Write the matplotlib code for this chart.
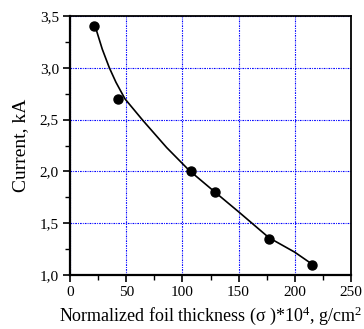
import matplotlib
matplotlib.use("Agg")
import matplotlib.pyplot as plt
from matplotlib.ticker import MultipleLocator, FuncFormatter

# measured points
thickness = [21.5, 43, 107.5, 129, 177, 215.5]
current = [3.40, 2.70, 2.00, 1.80, 1.35, 1.10]

# fitted curve
fit_x = [23.7, 28.7, 35, 40.9, 48.9, 65, 86, 106, 129, 150, 177, 200, 216]
fit_y = [3.355, 3.18, 3.0, 2.86, 2.70, 2.49, 2.23, 2.01, 1.80, 1.61, 1.36, 1.22, 1.10]

plt.rcParams['font.family'] = ['Liberation Serif', 'DejaVu Serif']
plt.rcParams['mathtext.fontset'] = 'custom'
plt.rcParams['mathtext.rm'] = 'Liberation Serif'
plt.rcParams['mathtext.it'] = 'Liberation Serif'

fig = plt.figure(figsize=(3.64, 3.29), dpi=100)
ax = fig.add_axes([0.1923, 0.1641, 0.7720, 0.7873])

ax.plot(fit_x, fit_y, color='black', lw=1.2, zorder=3)
ax.plot(thickness, current, 'o', color='black', ms=6.5, zorder=4)

ax.set_xlim(0, 250)
ax.set_ylim(1.0, 3.5)
ax.xaxis.set_major_locator(MultipleLocator(50))
ax.xaxis.set_minor_locator(MultipleLocator(25))
ax.yaxis.set_major_locator(MultipleLocator(0.5))
ax.yaxis.set_minor_locator(MultipleLocator(0.25))
ax.yaxis.set_major_formatter(FuncFormatter(lambda v, p: f"{v:.1f}".replace('.', ',')))

ax.grid(True, which='major', color='blue', lw=0.8, linestyle=(0, (1.5, 1, 0.8, 1)))
ax.set_axisbelow(True)

ax.tick_params(which='major', direction='out', length=5, width=1.2, labelsize=11, pad=3)
ax.tick_params(which='minor', direction='out', length=3.5, width=1.0)
for side in ['left', 'bottom']:
    ax.spines[side].set_linewidth(1.6)
for side in ['top', 'right']:
    ax.spines[side].set_linewidth(1.3)

ax.set_xlabel(r"Normalized foil thickness (σ )*10$^4$, g/cm$^2$", fontsize=13, labelpad=4)
ax.set_ylabel("Current, kA", fontsize=14, labelpad=8)

fig.savefig("out.png", dpi=100)
